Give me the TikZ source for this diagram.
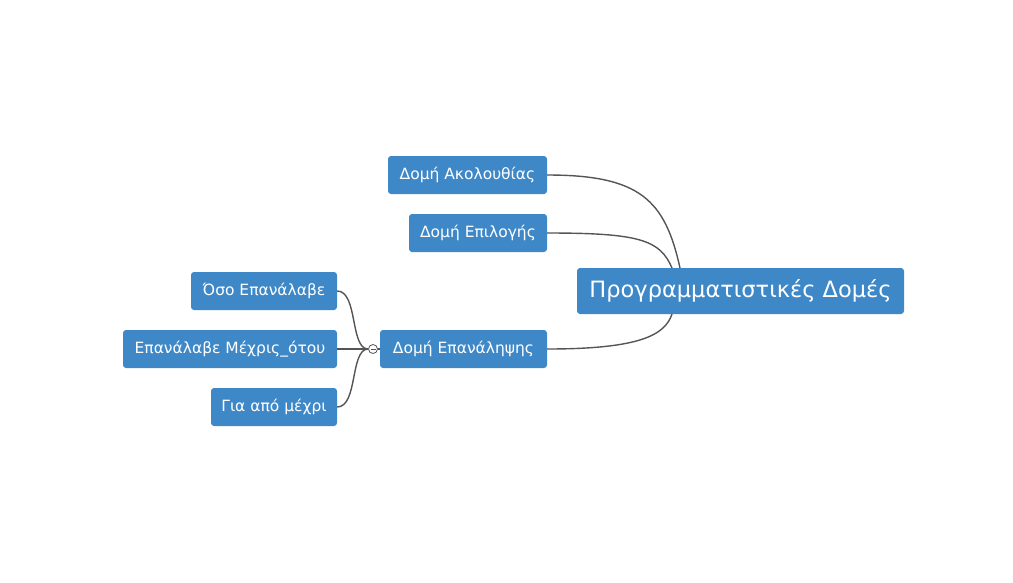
\documentclass[tikz,border=0pt]{standalone}
\usepackage{fontspec}
\setmainfont{DejaVu Sans}
\begin{document}
\begin{tikzpicture}[x=1pt,y=-1pt,
  box/.style={fill=boxblue,rounded corners=3pt,text=white,font=\fontsize{15.5}{18}\selectfont,minimum height=38pt,inner xsep=0pt,anchor=center},
  link/.style={draw=linkgray,line width=1.4pt}]
\definecolor{boxblue}{HTML}{3F88C8}
\definecolor{linkgray}{HTML}{555555}
\useasboundingbox (0,0) rectangle (1013,582);
\node[box,minimum width=327pt,minimum height=46pt,font=\fontsize{22.5}{26}\selectfont] (root) at (740.5,291) {Προγραμματιστικές Δομές};
\node[box,minimum width=159pt] (a) at (467.5,175) {Δομή Ακολουθίας};
\node[box,minimum width=138pt] (b) at (478,233) {Δομή Επιλογής};
\node[box,minimum width=167pt] (c) at (463.5,349) {Δομή Επανάληψης};
\node[box,minimum width=146pt] (c1) at (264,291) {Όσο Επανάλαβε};
\node[box,minimum width=214pt] (c2) at (230,349) {Επανάλαβε Μέχρις\_ότου};
\node[box,minimum width=126pt] (c3) at (274,407) {Για από μέχρι};
\coordinate (ra) at (680,268);
\coordinate (rb) at (672,268);
\coordinate (rc) at (672,314);
\draw[link] (a.east) .. controls (640,175) and (665,200) .. (ra);
\draw[link] (b.east) .. controls (640,233) and (660,240) .. (rb);
\draw[link] (c.east) .. controls (640,349) and (665,335) .. (rc);
\node[circle,draw=linkgray,line width=0.8pt,fill=white,inner sep=0pt,minimum size=9pt] (k) at (373,349) {};
\draw[link] (k.west) -- (c2.east);
\draw[link] (k.west) .. controls (350,349) and (358,291) .. (c1.east);
\draw[link] (k.west) .. controls (350,349) and (358,407) .. (c3.east);
\draw[linkgray,line width=0.8pt] (370.5,349) -- (375.5,349);
\draw[link] (k.east) -- (c.west);
\end{tikzpicture}
\end{document}
